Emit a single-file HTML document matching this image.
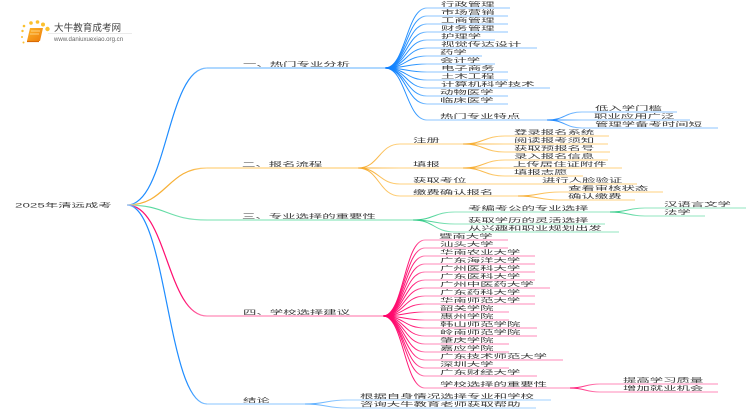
<!DOCTYPE html>
<html lang="zh">
<head>
<meta charset="utf-8">
<title>2025年清远成考</title>
<style>
html,body{margin:0;padding:0;background:#fff;width:750px;height:410px;overflow:hidden}
svg{display:block;filter:blur(.35px)}
text{font-family:"Liberation Sans","Noto Sans CJK SC",sans-serif;font-size:13.4px;fill:#3c3c3c}
path{fill:none;stroke-width:1}
.l{stroke-width:1.2}
</style>
</head>
<body>
<svg width="750" height="410" viewBox="0 0 750 410" xmlns="http://www.w3.org/2000/svg">
<defs>
<linearGradient id="r1" gradientUnits="userSpaceOnUse" x1="127" y1="0" x2="207" y2="0"><stop offset="0" stop-color="#a5d0ff"/><stop offset=".12" stop-color="#1e8cff"/><stop offset=".75" stop-color="#1e8cff"/><stop offset="1" stop-color="#8cc6ff"/></linearGradient>
<linearGradient id="r2" gradientUnits="userSpaceOnUse" x1="127" y1="0" x2="207" y2="0"><stop offset="0" stop-color="#ffe0a8"/><stop offset=".12" stop-color="#f7b036"/><stop offset=".75" stop-color="#f7b036"/><stop offset="1" stop-color="#ffd488"/></linearGradient>
<linearGradient id="r3" gradientUnits="userSpaceOnUse" x1="127" y1="0" x2="207" y2="0"><stop offset="0" stop-color="#a8eccb"/><stop offset=".3" stop-color="#55d89c"/><stop offset="1" stop-color="#90e6bf"/></linearGradient>
<linearGradient id="r4" gradientUnits="userSpaceOnUse" x1="127" y1="0" x2="207" y2="0"><stop offset="0" stop-color="#ff9cc4"/><stop offset=".12" stop-color="#ff0f70"/><stop offset=".7" stop-color="#ff0f70"/><stop offset="1" stop-color="#ff8ab8"/></linearGradient>
<linearGradient id="a1" gradientUnits="userSpaceOnUse" x1="385" y1="0" x2="427" y2="0"><stop offset="0" stop-color="#0a7dff"/><stop offset=".75" stop-color="#2f97ff"/><stop offset="1" stop-color="#8cc6ff"/></linearGradient>
<linearGradient id="a2" gradientUnits="userSpaceOnUse" x1="547" y1="0" x2="582" y2="0"><stop offset="0" stop-color="#0a7dff"/><stop offset="1" stop-color="#8cc6ff"/></linearGradient>
<linearGradient id="b1" gradientUnits="userSpaceOnUse" x1="358" y1="0" x2="400" y2="0"><stop offset="0" stop-color="#f5a623"/><stop offset="1" stop-color="#ffd27f"/></linearGradient>
<linearGradient id="b2" gradientUnits="userSpaceOnUse" x1="463" y1="0" x2="505" y2="0"><stop offset="0" stop-color="#f5a623"/><stop offset="1" stop-color="#ffd27f"/></linearGradient>
<linearGradient id="b3" gradientUnits="userSpaceOnUse" x1="518" y1="0" x2="560" y2="0"><stop offset="0" stop-color="#f5a623"/><stop offset="1" stop-color="#ffd27f"/></linearGradient>
<linearGradient id="c1" gradientUnits="userSpaceOnUse" x1="413" y1="0" x2="455" y2="0"><stop offset="0" stop-color="#22c77e"/><stop offset="1" stop-color="#90e6bf"/></linearGradient>
<linearGradient id="c2" gradientUnits="userSpaceOnUse" x1="610" y1="0" x2="645" y2="0"><stop offset="0" stop-color="#22c77e"/><stop offset="1" stop-color="#90e6bf"/></linearGradient>
<linearGradient id="d1" gradientUnits="userSpaceOnUse" x1="383" y1="0" x2="425" y2="0"><stop offset="0" stop-color="#ff0068"/><stop offset=".75" stop-color="#ff1f7a"/><stop offset="1" stop-color="#ff8ab8"/></linearGradient>
<linearGradient id="d2" gradientUnits="userSpaceOnUse" x1="570" y1="0" x2="600" y2="0"><stop offset="0" stop-color="#ff0068"/><stop offset="1" stop-color="#ff8ab8"/></linearGradient>
<linearGradient id="e1" gradientUnits="userSpaceOnUse" x1="305" y1="0" x2="347" y2="0"><stop offset="0" stop-color="#4aa6ff"/><stop offset="1" stop-color="#a0d0ff"/></linearGradient>
<linearGradient id="bk" x1="0" y1="0" x2="1" y2="1"><stop offset="0" stop-color="#fdb52a"/><stop offset="1" stop-color="#ee7d0a"/></linearGradient>
</defs>

<!-- logo -->
<g fill="#fbc02d">
<circle cx="24" cy="26" r="1.3"/><circle cx="31" cy="23" r="1.8"/><circle cx="37.500" cy="22" r="1.8"/><circle cx="43" cy="24.500" r="2"/><circle cx="47.500" cy="29" r="2.200"/><circle cx="22.500" cy="31" r="1.200"/><circle cx="22" cy="37" r="1"/><circle cx="23.500" cy="42.500" r="1"/>
</g>
<path d="M30 28H43L40 41H27Z" style="fill:url(#bk);stroke:none"/>
<path d="M31 31H40M30 34H39" style="stroke:#ffe2a0;stroke-width:.8"/>
<path d="M27 41.500H39" style="stroke:#d96a05;stroke-width:1.2"/>
<text x="54" y="31" style="font-size:9.600px;fill:#444">大牛教育成考网</text>
<text x="54" y="41" style="font-size:6.100px;fill:#666">www.daniuxuexiao.org.cn</text>
<path d="M48 33.500H132" style="stroke:#e4e4e4;stroke-width:.7"/>

<!-- root connectors -->
<path class="l" stroke="url(#r1)" d="M127 205C167 205 167 68 207 68"/>
<path class="l" stroke="url(#r2)" d="M127 205C167 205 167 168 207 168"/>
<path class="l" stroke="url(#r3)" d="M127 205C167 205 167 220 207 220"/>
<path class="l" stroke="url(#r4)" d="M127 205C167 205 167 316 207 316"/>
<path class="l" stroke="url(#r1)" d="M127 205C167 205 167 404 207 404"/>

<!-- level 1 lines -->
<path class="l" stroke="#7fc0ff" d="M207 68H385"/>
<path class="l" stroke="#ffd27f" d="M207 168H358"/>
<path class="l" stroke="#90e6bf" d="M207 220H413"/>
<path class="l" stroke="#ff8ab8" d="M207 316H383"/>
<path class="l" stroke="#a0d0ff" d="M207 404H305"/>

<!-- section 1 -->
<g stroke="url(#a1)">
<path d="M385 68C406 68 406 8 427 8H510"/>
<path d="M385 68C406 68 406 16 427 16H508"/>
<path d="M385 68C406 68 406 24 427 24H508"/>
<path d="M385 68C406 68 406 32 427 32H508"/>
<path d="M385 68C406 68 406 40 427 40H495"/>
<path d="M385 68C406 68 406 48 427 48H537"/>
<path d="M385 68C406 68 406 56 427 56H482"/>
<path d="M385 68C406 68 406 64 427 64H495"/>
<path d="M385 68C406 68 406 72 427 72H508"/>
<path d="M385 68C406 68 406 80 427 80H508"/>
<path d="M385 68C406 68 406 88 427 88H550"/>
<path d="M385 68C406 68 406 96 427 96H508"/>
<path d="M385 68C406 68 406 104 427 104H508"/>
<path d="M385 68C406 68 406 120 427 120H547"/>
</g>
<g stroke="url(#a2)">
<path d="M547 120C565 120 565 112 582 112H677"/>
<path d="M547 120H690"/>
<path d="M547 120C565 120 565 128 582 128H718"/>
</g>

<!-- section 2 -->
<g stroke="url(#b1)">
<path d="M358 168C379 168 379 144 400 144H463"/>
<path d="M358 168H463"/>
<path d="M358 168C379 168 379 184 400 184H637"/>
<path d="M358 168C379 168 379 196 400 196H518"/>
</g>
<g stroke="url(#b2)">
<path d="M463 144C484 144 484 136 505 136H609"/>
<path d="M463 144H608"/>
<path d="M463 144C484 144 484 152 505 152H610"/>
<path d="M463 168C484 168 484 160 505 160H608"/>
<path d="M463 168H622"/>
<path d="M463 168C484 168 484 176 505 176H583"/>
</g>
<g stroke="url(#b3)">
<path d="M518 196C539 196 539 192 560 192H663"/>
<path d="M518 196C539 196 539 200 560 200H635"/>
</g>

<!-- section 3 -->
<g stroke="url(#c1)">
<path d="M413 220C434 220 434 212 455 212H610"/>
<path d="M413 220C434 220 434 224 455 224H605"/>
<path d="M413 220C434 220 434 232 455 232H619"/>
</g>
<g stroke="url(#c2)">
<path d="M610 212C628 212 628 208 645 208H746"/>
<path d="M610 212C628 212 628 216 645 216H705"/>
</g>

<!-- section 4 -->
<g stroke="url(#d1)">
<path d="M383 316C404 316 404 240 425 240H508"/>
<path d="M383 316C404 316 404 248 425 248H508"/>
<path d="M383 316C404 316 404 256 425 256H535"/>
<path d="M383 316C404 316 404 264 425 264H535"/>
<path d="M383 316C404 316 404 272 425 272H535"/>
<path d="M383 316C404 316 404 280 425 280H535"/>
<path d="M383 316C404 316 404 288 425 288H550"/>
<path d="M383 316C404 316 404 296 425 296H535"/>
<path d="M383 316C404 316 404 304 425 304H535"/>
<path d="M383 316C404 316 404 312 425 312H509"/>
<path d="M383 316C404 316 404 320 425 320H509"/>
<path d="M383 316C404 316 404 328 425 328H537"/>
<path d="M383 316C404 316 404 336 425 336H537"/>
<path d="M383 316C404 316 404 344 425 344H509"/>
<path d="M383 316C404 316 404 352 425 352H509"/>
<path d="M383 316C404 316 404 360 425 360H563"/>
<path d="M383 316C404 316 404 368 425 368H509"/>
<path d="M383 316C404 316 404 376 425 376H537"/>
<path d="M383 316C404 316 404 388 425 388H570"/>
</g>
<g stroke="url(#d2)">
<path d="M570 388C585 388 585 384 600 384H718"/>
<path d="M570 388C585 388 585 392 600 392H718"/>
</g>

<!-- section 5 -->
<g stroke="url(#e1)">
<path d="M305 404C326 404 326 400 347 400H551"/>
<path d="M305 404C326 404 326 408 347 408H536"/>
</g>

<!-- labels -->
<text transform="matrix(1 0 0 .45 15 207.300)">2025年清远成考</text>

<text transform="matrix(1 0 0 .45 243 66.700)">一、热门专业分析</text>
<text transform="matrix(1 0 0 .45 441 6.700)">行政管理</text>
<text transform="matrix(1 0 0 .45 441 14.700)">市场营销</text>
<text transform="matrix(1 0 0 .45 441 22.700)">工商管理</text>
<text transform="matrix(1 0 0 .45 441 30.700)">财务管理</text>
<text transform="matrix(1 0 0 .45 441 38.700)">护理学</text>
<text transform="matrix(1 0 0 .45 441 46.700)">视觉传达设计</text>
<text transform="matrix(1 0 0 .45 440 54.700)">药学</text>
<text transform="matrix(1 0 0 .45 440 62.700)">会计学</text>
<text transform="matrix(1 0 0 .45 441 70.700)">电子商务</text>
<text transform="matrix(1 0 0 .45 441 78.700)">土木工程</text>
<text transform="matrix(1 0 0 .45 441 86.700)">计算机科学技术</text>
<text transform="matrix(1 0 0 .45 440 94.700)">动物医学</text>
<text transform="matrix(1 0 0 .45 440 102.700)">临床医学</text>
<text transform="matrix(1 0 0 .45 440 118.700)">热门专业特点</text>
<text transform="matrix(1 0 0 .45 595 110.700)">低入学门槛</text>
<text transform="matrix(1 0 0 .45 594 118.700)">职业应用广泛</text>
<text transform="matrix(1 0 0 .45 595 126.700)">管理学备考时间短</text>

<text transform="matrix(1 0 0 .45 242 166.700)">二、报名流程</text>
<text transform="matrix(1 0 0 .45 413 142.700)">注册</text>
<text transform="matrix(1 0 0 .45 413 166.700)">填报</text>
<text transform="matrix(1 0 0 .45 413 182.700)">获取考位</text>
<text transform="matrix(1 0 0 .45 413 194.700)">缴费确认报名</text>
<text transform="matrix(1 0 0 .45 514 134.700)">登录报名系统</text>
<text transform="matrix(1 0 0 .45 514 142.700)">阅读报考须知</text>
<text transform="matrix(1 0 0 .45 514 150.700)">获取预报名号</text>
<text transform="matrix(1 0 0 .45 514 158.700)">录入报名信息</text>
<text transform="matrix(1 0 0 .45 513 166.700)">上传居住证附件</text>
<text transform="matrix(1 0 0 .45 514 174.700)">填报志愿</text>
<text transform="matrix(1 0 0 .45 542 182.700)">进行人脸验证</text>
<text transform="matrix(1 0 0 .45 568 190.700)">查看审核状态</text>
<text transform="matrix(1 0 0 .45 568 198.700)">确认缴费</text>

<text transform="matrix(1 0 0 .45 242 218.700)">三、专业选择的重要性</text>
<text transform="matrix(1 0 0 .45 468 210.700)">考编考公的专业选择</text>
<text transform="matrix(1 0 0 .45 468 222.700)">获取学历的灵活选择</text>
<text transform="matrix(1 0 0 .45 468 230.700)">从兴趣和职业规划出发</text>
<text transform="matrix(1 0 0 .45 664 206.700)">汉语言文学</text>
<text transform="matrix(1 0 0 .45 664 214.700)">法学</text>

<text transform="matrix(1 0 0 .45 243 314.700)">四、学校选择建议</text>
<text transform="matrix(1 0 0 .45 439 238.700)">暨南大学</text>
<text transform="matrix(1 0 0 .45 440 246.700)">汕头大学</text>
<text transform="matrix(1 0 0 .45 440 254.700)">华南农业大学</text>
<text transform="matrix(1 0 0 .45 440 262.700)">广东海洋大学</text>
<text transform="matrix(1 0 0 .45 440 270.700)">广州医科大学</text>
<text transform="matrix(1 0 0 .45 440 278.700)">广东医科大学</text>
<text transform="matrix(1 0 0 .45 440 286.700)">广州中医药大学</text>
<text transform="matrix(1 0 0 .45 440 294.700)">广东药科大学</text>
<text transform="matrix(1 0 0 .45 440 302.700)">华南师范大学</text>
<text transform="matrix(1 0 0 .45 440 310.700)">韶关学院</text>
<text transform="matrix(1 0 0 .45 440 318.700)">惠州学院</text>
<text transform="matrix(1 0 0 .45 440 326.700)">韩山师范学院</text>
<text transform="matrix(1 0 0 .45 440 334.700)">岭南师范学院</text>
<text transform="matrix(1 0 0 .45 440 342.700)">肇庆学院</text>
<text transform="matrix(1 0 0 .45 440 350.700)">嘉应学院</text>
<text transform="matrix(1 0 0 .45 440 358.700)">广东技术师范大学</text>
<text transform="matrix(1 0 0 .45 440 366.700)">深圳大学</text>
<text transform="matrix(1 0 0 .45 440 374.700)">广东财经大学</text>
<text transform="matrix(1 0 0 .45 440 386.700)">学校选择的重要性</text>
<text transform="matrix(1 0 0 .45 623 382.700)">提高学习质量</text>
<text transform="matrix(1 0 0 .45 623 390.700)">增加就业机会</text>

<text transform="matrix(1 0 0 .45 243 402.700)">结论</text>
<text transform="matrix(1 0 0 .45 360 398.700)">根据自身情况选择专业和学校</text>
<text transform="matrix(1 0 0 .45 360 406.700)">咨询大牛教育老师获取帮助</text>
</svg>
</body>
</html>
